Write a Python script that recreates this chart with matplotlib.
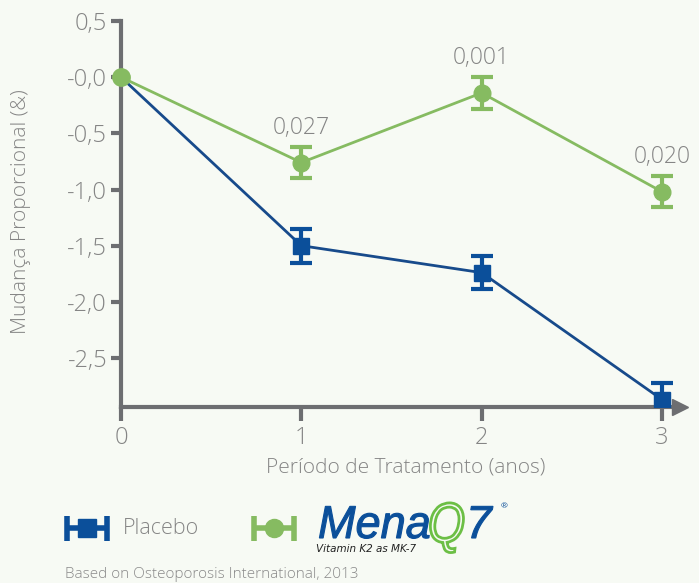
import numpy as np
import matplotlib
matplotlib.use('Agg')
import matplotlib.pyplot as plt
from matplotlib.textpath import TextPath
from matplotlib.patches import PathPatch
from matplotlib.font_manager import FontProperties
from matplotlib.transforms import Affine2D

plt.rcParams['font.family'] = ['Open Sans', 'DejaVu Sans']

# dados
anos = [0, 1, 2, 3]
placebo = [0.0, -1.50, -1.74, -2.87]
placebo_err = [0.0, 0.15, 0.15, 0.15]
menaq7 = [0.0, -0.76, -0.14, -1.02]
menaq7_err = [0.0, 0.14, 0.14, 0.14]
p_valores = ['', '0,027', '0,001', '0,020']
yticks = [0.5, 0.0, -0.5, -1.0, -1.5, -2.0, -2.5]
ytick_labels = ['0,5', '-0,0', '-0,5', '-1,0', '-1,5', '-2,0', '-2,5']

AZUL = '#0b4f9a'
AZUL_LINHA = '#174a8b'
VERDE = '#86bb61'
CINZA = '#6d6e71'
TEXTO = '#858585'
FUNDO = '#f7faf4'

fig = plt.figure(figsize=(6.99, 5.83), dpi=100, facecolor=FUNDO)
ax = fig.add_axes([0.1731, 0.3019, 0.814, 0.6717])
ax.set_facecolor('none')

ax.set_xlim(0, 3.155)
ax.set_ylim(-2.936, 0.55)

# placebo
ax.plot(anos, placebo, color=AZUL_LINHA, lw=2, zorder=3, clip_on=False)
ax.errorbar(anos[1:], placebo[1:], yerr=placebo_err[1:], fmt='s', color=AZUL,
            ms=12, elinewidth=3, capsize=8, capthick=3, zorder=6)
# menaq7
ax.plot(anos, menaq7, color=VERDE, lw=2, zorder=4, clip_on=False)
ax.errorbar(anos[1:], menaq7[1:], yerr=menaq7_err[1:], fmt='o', color=VERDE,
            ms=12, elinewidth=3, capsize=8, capthick=3, zorder=5)
ax.plot(anos[0], menaq7[0], 'o', color=VERDE, ms=12.5, zorder=7, clip_on=False)

for x, y, e, t in zip(anos, menaq7, menaq7_err, p_valores):
    if t:
        ax.annotate(t, (x, y + e), xytext=(0, 5), textcoords='offset points',
                    ha='center', va='bottom', fontsize=16.5, color=TEXTO,
                    fontweight='light')

# eixos
for s in ['top', 'right']:
    ax.spines[s].set_visible(False)
for s in ['left', 'bottom']:
    ax.spines[s].set_color(CINZA)
    ax.spines[s].set_linewidth(3)
ax.spines['left'].set_bounds(-2.936, 0.5)
ax.spines['bottom'].set_bounds(0, 3.08)
ax.plot(3.1, -2.936, marker='>', color=CINZA, ms=11, clip_on=False, zorder=2)

ax.set_yticks(yticks)
ax.set_yticklabels(ytick_labels)
ax.set_xticks(anos)
ax.tick_params(axis='y', length=7, width=3, color=CINZA, labelsize=17,
               labelcolor=TEXTO, pad=3)
ax.tick_params(axis='x', length=10, width=3, color=CINZA, labelsize=17,
               labelcolor=TEXTO, pad=4)
for lb in ax.get_xticklabels() + ax.get_yticklabels():
    lb.set_fontweight('light')

ax.set_xlabel('Período de Tratamento (anos)', fontsize=15, color=TEXTO,
              fontweight='light', labelpad=5)
ax.set_ylabel('Mudança Proporcional (&)', fontsize=15, color=TEXTO,
              fontweight='light', labelpad=26)

# legenda
lg = fig.add_axes([0, 0, 1, 1], facecolor='none')
lg.set_xlim(0, 699)
lg.set_ylim(583, 0)
lg.axis('off')
lg.errorbar(87, 528, xerr=20, fmt='s', color=AZUL, ms=13, elinewidth=4,
            capsize=9, capthick=4)
lg.text(123, 528, 'Placebo', fontsize=15.5, color=TEXTO, va='center',
        fontweight='light')
lg.errorbar(274, 528, xerr=20, fmt='o', color=VERDE, ms=13, elinewidth=4,
            capsize=9, capthick=4)


def logo_text(s, x, y, size, sx, weight='bold', **kw):
    fp = FontProperties(family='Liberation Sans', weight=weight, style='italic')
    tp = TextPath((0, 0), s, size=size, prop=fp)
    tr = Affine2D().scale(sx, -1).translate(x, y) + lg.transData
    lg.add_patch(PathPatch(tp, transform=tr, **kw))


logo_text('Mena', 318, 538, 46, 0.98, weight='normal', color=AZUL, lw=0.8)
logo_text('Q', 428, 542, 56, 0.85, weight='normal', facecolor='none',
          edgecolor='#6cbf45', lw=2)
logo_text('7', 466, 538, 46, 1.0, weight='normal', color=AZUL, lw=0.8)
lg.text(504, 507, '®', fontsize=6, color=AZUL, va='center', ha='center')
lg.text(316, 549, 'Vitamin K2 as MK-7', fontsize=7.5, color='#222222',
        style='italic', va='center', family='DejaVu Sans')

fig.text(65 / 699, 1 - 574 / 583, 'Based on Osteoporosis International, 2013',
         fontsize=11, color='#8a8a8a', va='center', fontweight='light')

fig.savefig('out.png', dpi=100, facecolor=FUNDO)
